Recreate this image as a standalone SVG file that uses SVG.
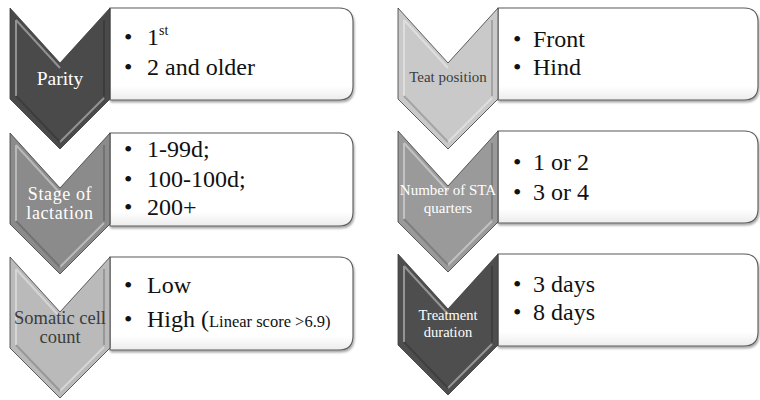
<svg xmlns="http://www.w3.org/2000/svg" width="760" height="400" viewBox="0 0 760 400" font-family="'Liberation Serif', 'Times New Roman', serif">
  <style>
    text { font-family: "Liberation Serif", "Times New Roman", serif; }
    .box { fill: url(#boxFill); stroke: #5a5a5a; stroke-width: 1.1; filter: url(#shadow); }
    .chev { stroke: #3a3a3a; stroke-width: 0.8; }
    .bevel { fill: none; stroke: #ffffff; stroke-opacity: 0.4; stroke-width: 2; }
    .shade { fill: none; stroke: #000000; stroke-opacity: 0.18; stroke-width: 2; }
    .item { font-size: 24px; fill: #111111; }
    .lbl { text-anchor: middle; }
  </style>
  <defs>
    <linearGradient id="boxFill" x1="0" y1="0" x2="0" y2="1">
      <stop offset="0" stop-color="#ffffff"/>
      <stop offset="0.85" stop-color="#ffffff"/>
      <stop offset="1" stop-color="#ececec"/>
    </linearGradient>
    <filter id="shadow" x="-5%" y="-10%" width="115%" height="130%">
      <feDropShadow dx="1" dy="2" stdDeviation="1.2" flood-color="#000000" flood-opacity="0.35"/>
    </filter>
    <!-- chevron outline, 100 wide, pointing down -->
    <path id="chevShape" d="M0,0 L50,55 L100,0 L100,91 L50,141 L0,91 Z"/>
    <!-- bevel highlight on the upper-left faces -->
    <path id="chevLight" d="M6,12 L50,60 M6,12 L6,88 M94,90 L50,134"/>
    <!-- bevel shade on the lower-right faces -->
    <path id="chevDark" d="M94,12 L94,88 M6,88 L50,134"/>
  </defs>

  <!-- left column -->
  <g id="parity" transform="translate(10,8)">
    <path class="box" d="M100,0 H329 Q343,0 343,14 V78 Q343,92 329,92 H100 Z"/>
    <use href="#chevShape" class="chev" fill="#4a4a4a"/>
    <use href="#chevLight" class="bevel"/>
    <use href="#chevDark" class="shade"/>
    <text class="lbl" x="50" y="77" font-size="19.5" fill="#ffffff">Parity</text>
    <text class="item" x="114" y="37">•</text>
    <text class="item" x="137" y="37">1<tspan font-size="14" dy="-10">st</tspan></text>
    <text class="item" x="114" y="67">•</text>
    <text class="item" x="137" y="67">2 and older</text>
  </g>

  <g id="stage-of-lactation" transform="translate(10,133)">
    <path class="box" d="M100,0 H329 Q343,0 343,14 V79 Q343,93 329,93 H100 Z"/>
    <use href="#chevShape" class="chev" fill="#8b8b8b"/>
    <use href="#chevLight" class="bevel"/>
    <use href="#chevDark" class="shade"/>
    <text class="lbl" font-size="18" fill="#ffffff" letter-spacing="0.6"><tspan x="50" y="67">Stage of</tspan><tspan x="50" y="86">lactation</tspan></text>
    <text class="item" x="114" y="24">•</text>
    <text class="item" x="137" y="24">1-99d;</text>
    <text class="item" x="114" y="54">•</text>
    <text class="item" x="137" y="54">100-100d;</text>
    <text class="item" x="114" y="82">•</text>
    <text class="item" x="137" y="82">200+</text>
  </g>

  <g id="somatic-cell-count" transform="translate(10,257)">
    <path class="box" d="M100,0 H329 Q343,0 343,14 V79 Q343,93 329,93 H100 Z"/>
    <use href="#chevShape" class="chev" fill="#bababa"/>
    <use href="#chevLight" class="bevel"/>
    <use href="#chevDark" class="shade"/>
    <text class="lbl" font-size="18.5" fill="#3c3c3c"><tspan x="50" y="67">Somatic cell</tspan><tspan x="50" y="86">count</tspan></text>
    <text class="item" x="114" y="36">•</text>
    <text class="item" x="137" y="36">Low</text>
    <text class="item" x="114" y="70">•</text>
    <text class="item" x="137" y="70">High (<tspan font-size="16.5">Linear score &gt;6.9)</tspan></text>
  </g>

  <!-- right column -->
  <g id="teat-position" transform="translate(398,8)">
    <path class="box" d="M100,0 H346 Q360,0 360,14 V78 Q360,92 346,92 H100 Z"/>
    <use href="#chevShape" class="chev" fill="#c9c9c9"/>
    <use href="#chevLight" class="bevel"/>
    <use href="#chevDark" class="shade"/>
    <text class="lbl" x="50" y="74" font-size="15" fill="#3c3c3c">Teat position</text>
    <text class="item" x="115" y="39">•</text>
    <text class="item" x="135" y="39">Front</text>
    <text class="item" x="115" y="67">•</text>
    <text class="item" x="135" y="67">Hind</text>
  </g>

  <g id="number-of-sta-quarters" transform="translate(398,131)">
    <path class="box" d="M100,0 H346 Q360,0 360,14 V78 Q360,92 346,92 H100 Z"/>
    <use href="#chevShape" class="chev" fill="#9a9a9a"/>
    <use href="#chevLight" class="bevel"/>
    <use href="#chevDark" class="shade"/>
    <text class="lbl" font-size="15" fill="#ffffff"><tspan x="50" y="64">Number of STA</tspan><tspan x="50" y="82">quarters</tspan></text>
    <text class="item" x="115" y="39">•</text>
    <text class="item" x="135" y="39">1 or 2</text>
    <text class="item" x="115" y="69">•</text>
    <text class="item" x="135" y="69">3 or 4</text>
  </g>

  <g id="treatment-duration" transform="translate(398,254)">
    <path class="box" d="M100,0 H346 Q360,0 360,14 V78 Q360,92 346,92 H100 Z"/>
    <use href="#chevShape" class="chev" fill="#4e4e4e"/>
    <use href="#chevLight" class="bevel"/>
    <use href="#chevDark" class="shade"/>
    <text class="lbl" font-size="14.5" fill="#ffffff"><tspan x="50" y="66">Treatment</tspan><tspan x="50" y="83">duration</tspan></text>
    <text class="item" x="115" y="38">•</text>
    <text class="item" x="135" y="38">3 days</text>
    <text class="item" x="115" y="66">•</text>
    <text class="item" x="135" y="66">8 days</text>
  </g>

  <!-- no connectors: the chevrons stack directly -->
  <g id="connectors"/>
</svg>
